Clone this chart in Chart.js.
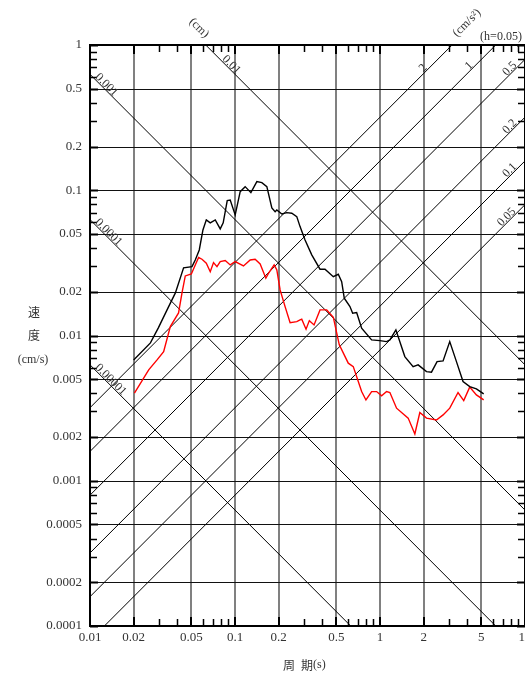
<!DOCTYPE html>
<html>
<head>
<meta charset="utf-8">
<title>速度応答スペクトル</title>
<script src="https://cdn.jsdelivr.net/npm/chart.js@4.4.1/dist/chart.umd.min.js"></script>
<style>
  html, body { margin: 0; padding: 0; background: #fff; overflow: hidden; }
  #wrap { width: 560px; height: 673px; }
</style>
</head>
<body>
<div id="wrap"><canvas id="spec" width="560" height="673"></canvas></div>
<script>
// 周期 (s) と速度 (cm/s) 黒線
const periodBlack = [0.0200, 0.0261, 0.0296, 0.0340, 0.0388, 0.0442, 0.0505, 0.0532, 0.0567, 0.0601,
  0.0634, 0.0675, 0.0731, 0.0791, 0.0829, 0.0884, 0.0927, 0.1003, 0.1086, 0.1175,
  0.1287, 0.1415, 0.1532, 0.1658, 0.1795, 0.1891, 0.1943, 0.2103, 0.2276, 0.2464,
  0.2667, 0.2810, 0.3042, 0.3383, 0.3858, 0.4176, 0.4764, 0.5156, 0.5441, 0.5670,
  0.6205, 0.6478, 0.6902, 0.7470, 0.8755, 0.998, 1.110, 1.170, 1.287, 1.483,
  1.692, 1.832, 2.093, 2.265, 2.475, 2.723, 3.027, 3.367, 3.738, 4.156, 4.622, 5.189];
const velBlack = [0.00679, 0.00889, 0.01128, 0.0150, 0.01964, 0.0292, 0.0298, 0.0331, 0.0388, 0.0533,
  0.0625, 0.0596, 0.0625, 0.0542, 0.0596, 0.0848, 0.0857, 0.0676, 0.0978, 0.1059,
  0.0963, 0.1146, 0.1128, 0.1059, 0.0755, 0.0712, 0.0732, 0.0687, 0.0701, 0.0694,
  0.0658, 0.0562, 0.0455, 0.0359, 0.0286, 0.0286, 0.0254, 0.0264, 0.0235, 0.01806,
  0.01581, 0.01424, 0.01438, 0.01122, 0.00932, 0.00922, 0.00908, 0.00932, 0.01093, 0.00716,
  0.00611, 0.00628, 0.00564, 0.00559, 0.00661, 0.00669, 0.00908, 0.00661, 0.00482, 0.00445, 0.00429, 0.00396];

// 赤線
const periodRed = [0.02025, 0.0254, 0.0290, 0.0322, 0.0358, 0.0408, 0.0431, 0.0454, 0.0500, 0.0532,
  0.0561, 0.0592, 0.0634, 0.0675, 0.0711, 0.0751, 0.0791, 0.0856, 0.0927, 0.1003,
  0.1144, 0.1273, 0.1377, 0.1491, 0.1632, 0.1701, 0.1862, 0.1943, 0.2047, 0.2215,
  0.2399, 0.2667, 0.2810, 0.2886, 0.3090, 0.3256, 0.3509, 0.3858, 0.4290, 0.4764,
  0.5239, 0.6042, 0.6541, 0.7470, 0.7998, 0.8755, 0.9476, 1.026, 1.110, 1.170,
  1.301, 1.564, 1.739, 1.882, 2.093, 2.452, 2.723, 3.027, 3.453, 3.780, 4.156, 4.622, 5.189];
const velRed = [0.00401, 0.00580, 0.00679, 0.00775, 0.01151, 0.01430, 0.01964, 0.0257, 0.0265, 0.0306,
  0.0344, 0.0335, 0.0315, 0.0275, 0.0318, 0.0298, 0.0323, 0.0328, 0.0306, 0.0323,
  0.0301, 0.0331, 0.0335, 0.0311, 0.0248, 0.0268, 0.0306, 0.0283, 0.0206, 0.01581,
  0.01227, 0.01247, 0.0128, 0.01295, 0.01105, 0.01266, 0.01183, 0.0150, 0.0150, 0.01336,
  0.00862, 0.00645, 0.00611, 0.00411, 0.00360, 0.00411, 0.00411, 0.00384, 0.00411, 0.00405,
  0.00316, 0.00270, 0.00210, 0.00295, 0.00270, 0.00262, 0.00284, 0.00316, 0.00405, 0.00356, 0.00441, 0.00390, 0.00360];

// 目盛
const xTicks = [0.01, 0.02, 0.05, 0.1, 0.2, 0.5, 1, 2, 5, 10];
const yTicks = [0.0001, 0.0002, 0.0005, 0.001, 0.002, 0.005, 0.01, 0.02, 0.05, 0.1, 0.2, 0.5, 1];
const minorSteps = [3, 4, 6, 7, 8, 9];
const xDecades = [0.01, 0.1, 1];
const yDecades = [0.0001, 0.001, 0.01, 0.1];

// 変位 (cm) と加速度 (cm/s²) の斜線
const dispLevels = [0.00001, 0.0001, 0.001, 0.01];
const accLevels = [0.05, 0.1, 0.2, 0.5, 1, 2];

const TWO_PI = 2 * Math.PI;
const serif = '"Liberation Serif", "Noto Sans CJK JP", serif';
const textColor = "#333";

const dispLine = (d) => [{ x: 0.01, y: TWO_PI * d / 0.01 }, { x: 10, y: TWO_PI * d / 10 }];
const accLine = (a) => [{ x: 0.01, y: a * 0.01 / TWO_PI }, { x: 10, y: a * 10 / TWO_PI }];

const guideStyle = { showLine: true, borderColor: "#000", borderWidth: 1, pointRadius: 0, fill: false };

const datasets = [
    {
        data: periodBlack.map((t, i) => ({ x: t, y: velBlack[i] })),
        showLine: true, borderColor: "#000", borderWidth: 1.4, pointRadius: 0, fill: false
    },
    {
        data: periodRed.map((t, i) => ({ x: t, y: velRed[i] })),
        showLine: true, borderColor: "#ff0000", borderWidth: 1.4, pointRadius: 0, fill: false
    },
    ...dispLevels.map((d) => Object.assign({ data: dispLine(d) }, guideStyle)),
    ...accLevels.map((a) => Object.assign({ data: accLine(a) }, guideStyle))
];

// 斜線のラベルを線に沿って書く
function lineLabel(ctx, chart, text, fn, px, align) {
    const { x, y } = chart.scales;
    const t1 = x.getValueForPixel(px);
    const t2 = x.getValueForPixel(px + 10);
    const y1 = y.getPixelForValue(fn(t1));
    const y2 = y.getPixelForValue(fn(t2));
    const ang = Math.atan2(y2 - y1, 10);
    ctx.save();
    ctx.translate(px, y1);
    ctx.rotate(ang);
    ctx.textAlign = align;
    ctx.textBaseline = "alphabetic";
    ctx.fillText(text, 0, -1);
    ctx.restore();
}

const paperPlugin = {
    id: "paper",
    beforeDatasetsDraw(chart) {
        const { ctx, chartArea: a, scales: { x, y } } = chart;
        ctx.save();
        // 縦の格子 (灰色)
        ctx.strokeStyle = "#808080";
        ctx.lineWidth = 2;
        xTicks.forEach((v) => {
            const px = Math.round(x.getPixelForValue(v));
            ctx.beginPath();
            ctx.moveTo(px, a.top);
            ctx.lineTo(px, a.bottom);
            ctx.stroke();
        });
        // 横の格子
        ctx.strokeStyle = "#111";
        ctx.lineWidth = 1;
        yTicks.forEach((v) => {
            const py = Math.round(y.getPixelForValue(v)) + 0.5;
            ctx.beginPath();
            ctx.moveTo(a.left, py);
            ctx.lineTo(a.right, py);
            ctx.stroke();
        });
        ctx.restore();
    },
    afterDatasetsDraw(chart) {
        const { ctx, chartArea: a, scales: { x, y } } = chart;
        ctx.save();
        ctx.strokeStyle = "#000";

        // 小目盛
        ctx.lineWidth = 1.5;
        xDecades.forEach((d) => minorSteps.forEach((m) => {
            const px = Math.round(x.getPixelForValue(d * m)) + 0.5;
            ctx.beginPath();
            ctx.moveTo(px, a.top); ctx.lineTo(px, a.top + 7);
            ctx.moveTo(px, a.bottom); ctx.lineTo(px, a.bottom - 7);
            ctx.stroke();
        }));
        yDecades.forEach((d) => minorSteps.forEach((m) => {
            const py = Math.round(y.getPixelForValue(d * m)) + 0.5;
            ctx.beginPath();
            ctx.moveTo(a.left, py); ctx.lineTo(a.left + 7, py);
            ctx.moveTo(a.right, py); ctx.lineTo(a.right - 7, py);
            ctx.stroke();
        }));

        // 主目盛
        ctx.lineWidth = 2;
        xTicks.forEach((v) => {
            const px = Math.round(x.getPixelForValue(v));
            ctx.beginPath();
            ctx.moveTo(px, a.top); ctx.lineTo(px, a.top + 9);
            ctx.moveTo(px, a.bottom); ctx.lineTo(px, a.bottom - 9);
            ctx.stroke();
        });
        yTicks.forEach((v) => {
            const py = Math.round(y.getPixelForValue(v)) + 0.5;
            ctx.beginPath();
            ctx.moveTo(a.left, py); ctx.lineTo(a.left + 8, py);
            ctx.moveTo(a.right, py); ctx.lineTo(a.right - 8, py);
            ctx.stroke();
        });

        // 枠
        ctx.lineWidth = 2;
        ctx.strokeRect(a.left, a.top, a.right - a.left, a.bottom - a.top);

        // 斜線ラベル
        ctx.fillStyle = textColor;
        ctx.font = "12px " + serif;
        const dispFn = (d) => (t) => TWO_PI * d / t;
        const accFn = (g) => (t) => g * t / TWO_PI;
        lineLabel(ctx, chart, "0.00001", dispFn(0.00001), a.left + 4, "left");
        lineLabel(ctx, chart, "0.0001", dispFn(0.0001), a.left + 4, "left");
        lineLabel(ctx, chart, "0.001", dispFn(0.001), a.left + 4, "left");
        lineLabel(ctx, chart, "0.01", dispFn(0.01), 221, "left");
        lineLabel(ctx, chart, "2", accFn(2), 426, "center");
        lineLabel(ctx, chart, "1", accFn(1), 472, "center");
        lineLabel(ctx, chart, "0.5", accFn(0.5), a.right - 7, "right");
        lineLabel(ctx, chart, "0.2", accFn(0.2), a.right - 7, "right");
        lineLabel(ctx, chart, "0.1", accFn(0.1), a.right - 7, "right");
        lineLabel(ctx, chart, "0.05", accFn(0.05), a.right - 8, "right");

        // 単位
        ctx.textAlign = "center";
        ctx.textBaseline = "middle";
        ctx.save();
        ctx.translate(199, 28);
        ctx.rotate(Math.PI / 4);
        ctx.fillText("(cm)", 0, 0);
        ctx.restore();
        ctx.save();
        ctx.translate(467, 23);
        ctx.rotate(-Math.PI / 4);
        ctx.fillText("(cm/s²)", 0, 0);
        ctx.restore();
        ctx.fillText("(h=0.05)", 501, 37);

        // 軸タイトル
        ctx.font = '12px "Noto Sans CJK JP", sans-serif';
        ctx.fillText("速", 34, 312);
        ctx.fillText("度", 34, 335);
        ctx.font = "12px " + serif;
        ctx.fillText("(cm/s)", 33, 360);
        ctx.font = '12px "Noto Sans CJK JP", sans-serif';
        ctx.textAlign = "right";
        ctx.fillText("周\u2002期", 313, 665);
        ctx.font = "12px " + serif;
        ctx.textAlign = "left";
        ctx.fillText("(s)", 313, 665);
        ctx.restore();
    }
};

const tickFont = { family: serif, size: 13 };

new Chart(document.getElementById("spec"), {
    type: "scatter",
    data: { datasets },
    options: {
        responsive: false,
        animation: false,
        devicePixelRatio: 1,
        layout: { padding: { left: 0, top: 45, right: 35, bottom: 25 } },
        plugins: { legend: { display: false }, tooltip: { enabled: false } },
        scales: {
            x: {
                type: "logarithmic",
                min: 0.01,
                max: 10,
                afterBuildTicks: (s) => { s.ticks = xTicks.map((v) => ({ value: v })); },
                afterFit: (s) => { s.height = 22; },
                grid: { display: false, drawTicks: false },
                border: { display: false },
                ticks: {
                    font: tickFont, color: textColor, padding: 4,
                    maxRotation: 0, autoSkip: false,
                    callback: (v) => String(v)
                }
            },
            y: {
                type: "logarithmic",
                min: 0.0001,
                max: 1,
                afterBuildTicks: (s) => { s.ticks = yTicks.map((v) => ({ value: v })); },
                afterFit: (s) => { s.width = 90; },
                grid: { display: false, drawTicks: false },
                border: { display: false },
                ticks: {
                    font: tickFont, color: textColor, padding: 8,
                    autoSkip: false,
                    callback: (v) => String(v)
                }
            }
        }
    },
    plugins: [paperPlugin]
});
</script>
</body>
</html>
